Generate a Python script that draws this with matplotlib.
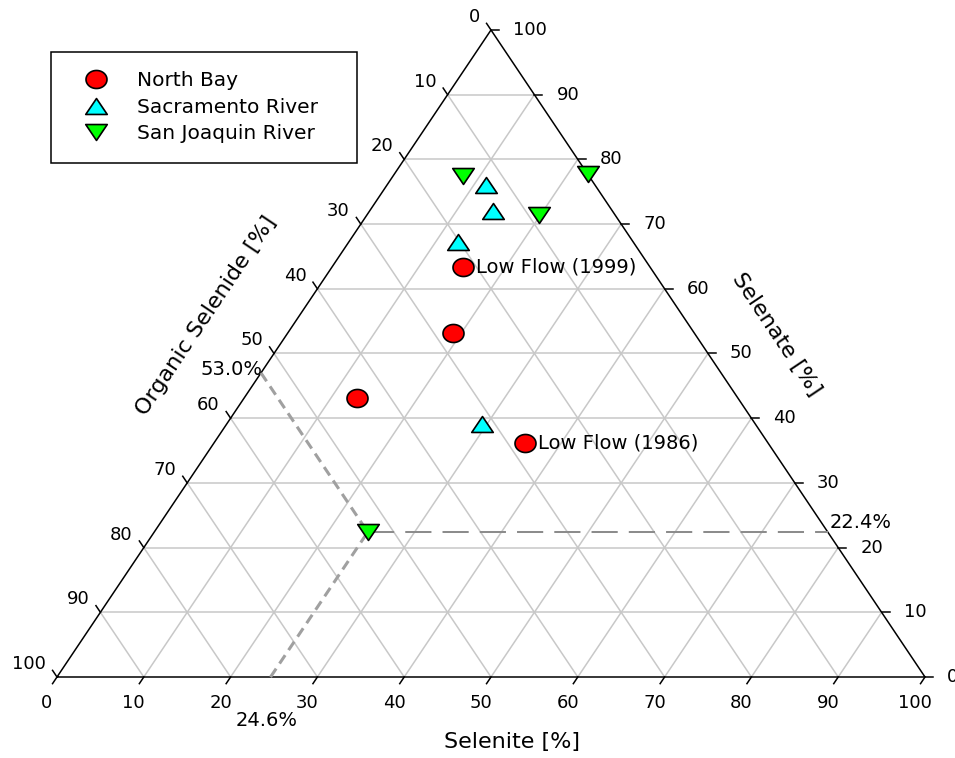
import numpy as np
import matplotlib
matplotlib.use("Agg")
import matplotlib.pyplot as plt
from matplotlib.path import Path
from matplotlib.lines import Line2D

plt.rcParams['font.family'] = ['DejaVu Sans']

# Se speciation: Selenite [%] and Selenate [%]; Organic Selenide is the remainder
north_bay_selenite = [15.1, 19.0, 13.0, 35.8]
north_bay_selenate = [63.3, 53.2, 43.1, 36.2]
sacramento_selenite = [11.4, 14.2, 12.6, 29.4]
sacramento_selenate = [76.1, 72.0, 67.3, 39.1]
san_joaquin_selenite = [8.0, 22.3, 19.8, 24.6]
san_joaquin_selenate = [77.5, 77.7, 71.4, 22.4]

series_names = ["North Bay", "Sacramento River", "San Joaquin River"]
flow_labels = ["Low Flow (1999)", "Low Flow (1986)"]
flow_selenite = [15.1, 35.8]
flow_selenate = [63.3, 36.2]

# highlighted San Joaquin sample, read along each axis
guide_selenite = 24.6
guide_selenate = 22.4
guide_organic = 53.0

tick_values = list(range(0, 101, 10))

HEIGHT = 74.54   # vertical extent of the triangle in x-units
PX = 8.68        # pixels per unit


def to_xy(selenite, selenate):
    s = np.asarray(selenite, dtype=float)
    t = np.asarray(selenate, dtype=float)
    return s + t / 2.0, t * HEIGHT / 100.0


fig = plt.figure(figsize=(9.55, 7.58), dpi=100)
ax = fig.add_axes([0, 0, 1, 1])
ax.set_xlim(-57 / PX, (955 - 57) / PX)
ax.set_ylim(-(758 - 677) / PX, 677 / PX)
ax.axis('off')

grid_kw = dict(color='#c8c8c8', lw=1.1, zorder=1, solid_capstyle='butt')
for v in tick_values[1:-1]:
    # constant selenite
    x, y = to_xy([v, v], [0, 100 - v])
    ax.plot(x, y, **grid_kw)
    # constant selenate
    x, y = to_xy([0, 100 - v], [v, v])
    ax.plot(x, y, **grid_kw)
    # constant organic selenide
    x, y = to_xy([0, 100 - v], [100 - v, 0])
    ax.plot(x, y, **grid_kw)

# triangle frame
x, y = to_xy([0, 100, 0, 0], [0, 0, 100, 0])
ax.plot(x, y, color='black', lw=1.1, zorder=3, solid_joinstyle='miter')

# ticks and tick labels
tick_len = 8 / PX
edge_len = np.hypot(50, HEIGHT)
left_dir = np.array([-50, HEIGHT]) / edge_len * tick_len
bottom_dir = np.array([-50, -HEIGHT]) / edge_len * tick_len
tick_kw = dict(color='black', lw=1.1, zorder=3)
label_fs = 13
for v in tick_values:
    # bottom: Selenite
    bx, by = to_xy(v, 0)
    ax.plot([bx, bx + bottom_dir[0]], [by, by + bottom_dir[1]], **tick_kw)
    ax.annotate(str(v), (bx, by), xytext=(-10, -26), textcoords='offset pixels',
                ha='center', va='center', fontsize=label_fs)
    # right: Selenate
    rx, ry = to_xy(100 - v, v)
    ax.plot([rx, rx + tick_len], [ry, ry], **tick_kw)
    ax.annotate(str(v), (rx, ry), xytext=(22, 0), textcoords='offset pixels',
                ha='left', va='center', fontsize=label_fs)
    # left: Organic Selenide
    lx, ly = to_xy(0, 100 - v)
    ax.plot([lx, lx + left_dir[0]], [ly, ly + left_dir[1]], **tick_kw)
    ax.annotate(str(v), (lx, ly), xytext=(-11, 13), textcoords='offset pixels',
                ha='right', va='center', fontsize=label_fs)

# axis titles
title_fs = 16
angle = np.degrees(np.arctan2(HEIGHT, 50))
ax.annotate("Selenite [%]", (50, 0), xytext=(21, -65), textcoords='offset pixels',
            ha='center', va='center', fontsize=title_fs)
lx, ly = to_xy(0, 50)
ax.annotate("Organic Selenide [%]", (lx, ly), xytext=(-68, 38), textcoords='offset pixels',
            ha='center', va='center', fontsize=title_fs, rotation=angle,
            rotation_mode='anchor')
rx, ry = to_xy(50, 50)
ax.annotate("Selenate [%]", (rx, ry), xytext=(68, 19), textcoords='offset pixels',
            ha='center', va='center', fontsize=title_fs, rotation=-angle,
            rotation_mode='anchor')

# guide lines through the highlighted sample
gx, gy = to_xy(guide_selenite, guide_selenate)
x0, y0 = to_xy(0, 100 - guide_organic)
ax.plot([x0, gx], [y0, gy], color='#a0a0a0', lw=2.2, ls=(0, (3.3, 2.0)), zorder=4)
x0, y0 = to_xy(guide_selenite, 0)
ax.plot([x0, gx], [y0, gy], color='#a0a0a0', lw=2.2, ls=(0, (3.3, 2.0)), zorder=4)
x1, y1 = to_xy(100 - guide_selenate, guide_selenate)
ax.plot([gx, x1], [gy, y1], color='#8c8c8c', lw=1.45, ls=(0, (13, 5.5)), zorder=4)

pct_fs = 14
ax.annotate(f"{guide_organic:.1f}%", to_xy(0, 100 - guide_organic), xytext=(2, 3),
            textcoords='offset pixels', ha='right', va='center', fontsize=pct_fs)
ax.annotate(f"{guide_selenate:.1f}%", to_xy(100 - guide_selenate, guide_selenate),
            xytext=(2, 10), textcoords='offset pixels', ha='left', va='center',
            fontsize=pct_fs)
ax.annotate(f"{guide_selenite:.1f}%", to_xy(guide_selenite, 0), xytext=(-4, -44),
            textcoords='offset pixels', ha='center', va='center', fontsize=pct_fs)

# marker shapes: slightly flattened ellipse and wide triangles
theta = np.linspace(0, 2 * np.pi, 65)
ellipse = Path(np.column_stack([np.cos(theta), 0.86 * np.sin(theta)]), closed=True)
tri_up = Path([(-1, -0.74), (1, -0.74), (0, 0.74), (-1, -0.74)], closed=True)
tri_down = Path([(-1, 0.74), (1, 0.74), (0, -0.74), (-1, 0.74)], closed=True)

series = [
    (north_bay_selenite, north_bay_selenate, ellipse, '#ff0000', 15.1),
    (sacramento_selenite, sacramento_selenate, tri_up, '#00ffff', 15.5),
    (san_joaquin_selenite, san_joaquin_selenate, tri_down, '#00ff00', 15.5),
]
handles = []
for (sel, sen, mk, col, ms), name in zip(series, series_names):
    x, y = to_xy(sel, sen)
    ax.plot(x, y, ls='none', marker=mk, ms=ms, mfc=col, mec='black', mew=1.2,
            zorder=6)
    handles.append(Line2D([], [], ls='none', marker=mk, ms=ms, mfc=col,
                          mec='black', mew=1.2, label=name))

for text, s, t in zip(flow_labels, flow_selenite, flow_selenate):
    ax.annotate(text, to_xy(s, t), xytext=(13, 0), textcoords='offset pixels',
                ha='left', va='center', fontsize=pct_fs, zorder=7)

leg_top = 1 - 52 / 758
leg = ax.legend(handles=handles, loc='upper left',
                bbox_to_anchor=(50.5 / 955, leg_top - 0.01, 306 / 955, 0.01),
                bbox_transform=fig.transFigure, mode='expand', borderaxespad=0,
                fontsize=14.5, frameon=True, fancybox=False, framealpha=1,
                edgecolor='black', borderpad=0.95, labelspacing=0.38,
                handlelength=2.6, handletextpad=0.75)
leg.get_frame().set_linewidth(1.1)

fig.savefig("out.png", dpi=100)
